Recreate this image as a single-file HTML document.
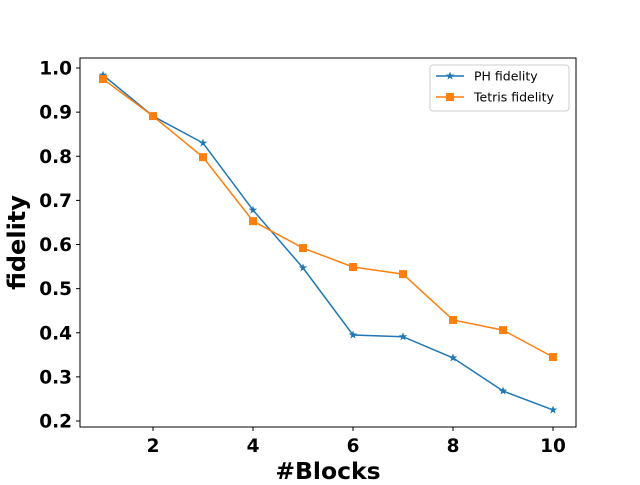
<!DOCTYPE html>
<html><head><meta charset="utf-8"><style>
body{margin:0;background:#fff;}
svg text{font-family:"DejaVu Sans","Liberation Sans",sans-serif;}
</style></head><body>
<svg id="chart" width="640" height="480" xmlns="http://www.w3.org/2000/svg">
<g id="plot"></g>
</svg>
<script>
const blocks=[1,2,3,4,5,6,7,8,9,10];
const phFidelity=[0.984,0.891,0.830,0.678,0.547,0.395,0.391,0.343,0.268,0.225];
const tetrisFidelity=[0.975,0.891,0.798,0.653,0.592,0.549,0.533,0.429,0.406,0.345];
const xTicks=[2,4,6,8,10];
const yTicks=[0.2,0.3,0.4,0.5,0.6,0.7,0.8,0.9,1.0];
const L=80,R=576,T=58,B=427;
const xMin=0.54,xMax=10.46,yMin=0.1864,yMax=1.0227;
const xs=v=>L+(v-xMin)/(xMax-xMin)*(R-L);
const ys=v=>B-(v-yMin)/(yMax-yMin)*(B-T);
const NS="http://www.w3.org/2000/svg";
const g=document.getElementById('plot');
function mk(tag,attrs,parent){const e=document.createElementNS(NS,tag);for(const k in attrs)e.setAttribute(k,attrs[k]);(parent||g).appendChild(e);return e;}
let frame=mk('rect',{x:L,y:T,width:R-L,height:B-T,fill:'none',stroke:'#000','stroke-width':1});


xTicks.forEach(t=>{
  const x=xs(t);
  let l=mk('line',{x1:x,x2:x,y1:B,y2:B+4,stroke:'#000'});
  
  
  let tx=mk('text',{x:x,y:B+25,'text-anchor':'middle','font-size':18.5,'font-weight':'bold'});
  tx.textContent=t;
  
  
});
yTicks.forEach(t=>{
  const y=ys(t);
  let l=mk('line',{x1:L-4,x2:L,y1:y,y2:y,stroke:'#000'});
  
  
  let tx=mk('text',{x:L-8,y:y+6.5,'text-anchor':'end','font-size':18.5,'font-weight':'bold'});
  tx.textContent=t.toFixed(1);
  
  
});
let xt=mk('text',{x:(L+R)/2,y:479,'text-anchor':'middle','font-size':23.5,'font-weight':'bold'});
xt.textContent='#Blocks';


let yt=mk('text',{x:0,y:0,'text-anchor':'middle','font-size':24,'font-weight':'bold',transform:`translate(25,${(T+B)/2}) rotate(-90)`});
yt.textContent='fidelity';


function star(cx,cy,r){let p=[];for(let i=0;i<10;i++){const a=-Math.PI/2+i*Math.PI/5;const rr=i%2?r*0.4:r;p.push((cx+rr*Math.cos(a)).toFixed(1)+','+(cy+rr*Math.sin(a)).toFixed(1));}return p.join(' ');}
function series(vals,color,marker,name){
  let pl=mk('polyline',{points:blocks.map((b,i)=>xs(b)+','+ys(vals[i])).join(' '),fill:'none',stroke:color,'stroke-width':1.5});
  
  
  blocks.forEach((b,i)=>{
    let m;
    if(marker==='star') m=mk('polygon',{points:star(xs(b),ys(vals[i]),4.5),fill:color});
    else m=mk('rect',{x:xs(b)-4,y:ys(vals[i])-4,width:8,height:8,fill:color});
    
    
  });
}
series(phFidelity,'#1f77b4','star','ph-fidelity');
series(tetrisFidelity,'#ff7f0e','square','tetris-fidelity');
let lg=mk('g',{});


mk('rect',{x:430,y:65,width:139,height:46,rx:3,fill:'#fff',stroke:'#ccc'},lg);
mk('line',{x1:436,x2:464,y1:76,y2:76,stroke:'#1f77b4','stroke-width':1.5},lg);
mk('polygon',{points:star(450,76,4.5),fill:'#1f77b4'},lg);
let t1=mk('text',{x:474,y:80.5,'font-size':12.5},lg);t1.textContent='PH fidelity';


mk('line',{x1:436,x2:464,y1:97,y2:97,stroke:'#ff7f0e','stroke-width':1.5},lg);
mk('rect',{x:446,y:93,width:8,height:8,fill:'#ff7f0e'},lg);
let t2=mk('text',{x:474,y:101.5,'font-size':12.5},lg);t2.textContent='Tetris fidelity';


</script>
</body></html>
